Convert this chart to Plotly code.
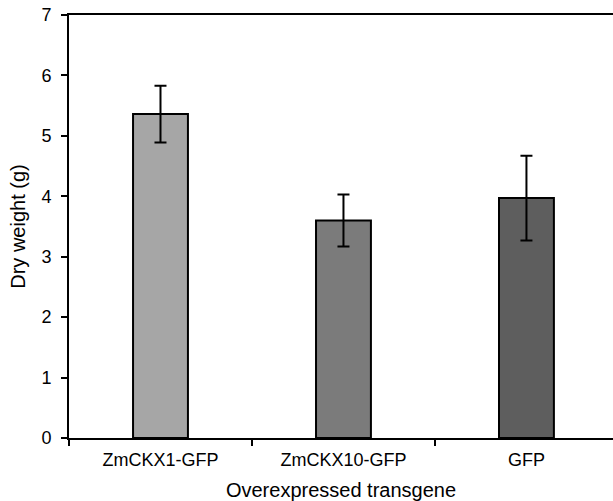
import plotly.graph_objects as go

categories = ["ZmCKX1-GFP", "ZmCKX10-GFP", "GFP"]
dry_weight = [5.36, 3.60, 3.97]
errors = [0.47, 0.43, 0.70]
bar_colors = ["#a6a6a6", "#7b7b7b", "#5e5e5e"]
y_ticks = [0, 1, 2, 3, 4, 5, 6, 7]

fig = go.Figure()
fig.add_trace(go.Bar(
    x=categories, y=dry_weight,
    width=0.30,
    marker=dict(color=bar_colors, line=dict(color="black", width=2)),
    error_y=dict(type="data", array=errors, visible=True,
                 color="black", thickness=2, width=6),
    showlegend=False,
))

font_family = "Liberation Sans, Arial, sans-serif"
fig.update_layout(
    width=613, height=501,
    margin=dict(l=69, r=0, t=15, b=63),
    plot_bgcolor="white", paper_bgcolor="white",
    font=dict(family=font_family, size=18, color="black"),
)
fig.update_xaxes(
    type="category", automargin=False,
    range=[-0.5, 2.473],
    showline=True, linecolor="black", linewidth=2, mirror=True,
    ticks="outside", tickson="boundaries", ticklen=6, tickwidth=1.5, tickcolor="black",
    tickfont=dict(size=18), ticklabelstandoff=4,
    title=dict(text="Overexpressed transgene", font=dict(size=20), standoff=14),
    showgrid=False, zeroline=False,
)
fig.update_yaxes(
    range=[0, 7], tickvals=y_ticks, automargin=False,
    showline=True, linecolor="black", linewidth=2,
    ticks="outside", ticklen=6, tickwidth=2, tickcolor="black",
    tickfont=dict(size=18), ticklabelstandoff=6, ticklabeloverflow="allow",
    title=dict(text="Dry weight (g)", font=dict(size=20), standoff=10),
    showgrid=False, zeroline=False,
)

fig.write_html("out.html", config={"displayModeBar": False},
               post_script="document.body.style.margin='0';")
